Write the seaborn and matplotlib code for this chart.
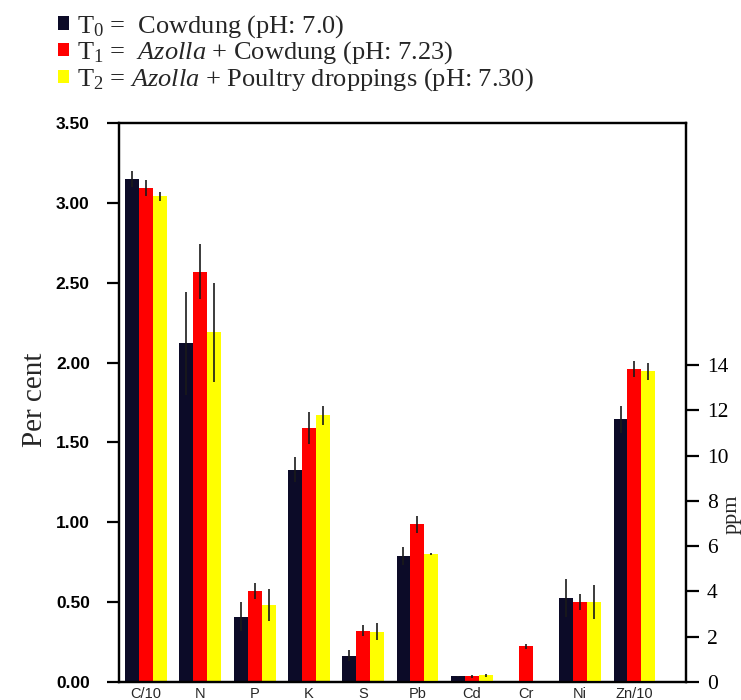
import numpy as np
import pandas as pd
import matplotlib
matplotlib.use("Agg")
import matplotlib.pyplot as plt
import seaborn as sns

# ---------------- data ----------------
categories = ["C/10", "N", "P", "K", "S", "Pb", "Cd", "Cr", "Ni", "Zn/10"]
pct_categories = ["C/10", "N", "P", "K", "S"]
ppm_categories = ["Pb", "Cd", "Cr", "Ni", "Zn/10"]
treatments = ["T0", "T1", "T2"]

# per cent (left axis)
t0_pct = [3.15, 2.12, 0.41, 1.33, 0.165]
t1_pct = [3.09, 2.57, 0.57, 1.59, 0.32]
t2_pct = [3.04, 2.19, 0.48, 1.67, 0.315]
t0_pct_err = [0.05, 0.32, 0.09, 0.08, 0.033]
t1_pct_err = [0.05, 0.17, 0.05, 0.10, 0.035]
t2_pct_err = [0.03, 0.31, 0.10, 0.06, 0.055]

# ppm (right axis)
t0_ppm = [5.55, 0.25, np.nan, 3.71, 11.6]
t1_ppm = [6.96, 0.26, 1.57, 3.52, 13.83]
t2_ppm = [5.64, 0.29, np.nan, 3.54, 13.73]
t0_ppm_err = [0.40, 0.03, 0.0, 0.82, 0.60]
t1_ppm_err = [0.37, 0.07, 0.13, 0.35, 0.37]
t2_ppm_err = [0.05, 0.07, 0.0, 0.74, 0.38]

legend_labels = [
    r"T$_0$ =  Cowdung (pH: 7.0)",
    r"T$_1$ =  $\mathit{Azolla}$ + Cowdung (pH: 7.23)",
    r"T$_2$ = $\mathit{Azolla}$ + Poultry droppings (pH: 7.30)",
]
left_ticks = [0.0, 0.5, 1.0, 1.5, 2.0, 2.5, 3.0, 3.5]
right_ticks = [0, 2, 4, 6, 8, 10, 12, 14]

colors = ["#0c0b28", "#ff0000", "#ffff00"]

# ---------------- build frames ----------------
def long_frame(cats, series, errs):
    rows = []
    for t, vals, es in zip(treatments, series, errs):
        for c, v, e in zip(cats, vals, es):
            rows.append({"cat": c, "treatment": t, "value": v, "err": e})
    return pd.DataFrame(rows)

df_pct = long_frame(pct_categories, [t0_pct, t1_pct, t2_pct],
                    [t0_pct_err, t1_pct_err, t2_pct_err])
df_ppm = long_frame(ppm_categories, [t0_ppm, t1_ppm, t2_ppm],
                    [t0_ppm_err, t1_ppm_err, t2_ppm_err])

# ---------------- style ----------------
sns.set_style("white")
plt.rcParams["font.family"] = ["Liberation Serif", "DejaVu Serif"]
plt.rcParams["mathtext.fontset"] = "custom"
plt.rcParams["mathtext.rm"] = "Liberation Serif"
plt.rcParams["mathtext.it"] = "Liberation Serif:italic"

fig = plt.figure(figsize=(7.41, 7.00), dpi=100)
ax = fig.add_axes([119 / 741, 1 - 682 / 700, (686 - 119) / 741, (682 - 123) / 700])
ax2 = ax.twinx()

sns.barplot(data=df_pct, x="cat", y="value", hue="treatment", order=categories,
            hue_order=treatments, palette=colors, width=0.77, errorbar=None,
            saturation=1, ax=ax, legend=False)
sns.barplot(data=df_ppm, x="cat", y="value", hue="treatment", order=categories,
            hue_order=treatments, palette=colors, width=0.77, errorbar=None,
            saturation=1, ax=ax2, legend=False)

def add_errors(axis, df):
    for container, t in zip(axis.containers, treatments):
        sub = df[df["treatment"] == t].set_index("cat")
        for bar in container:
            h = bar.get_height()
            if not np.isfinite(h):
                continue
            xc = bar.get_x() + bar.get_width() / 2
            cat = categories[int(round(xc))]
            if cat not in sub.index:
                continue
            e = sub.loc[cat, "err"]
            if e > 0:
                axis.errorbar(xc, h, yerr=e, fmt="none", ecolor="#1a1a1a",
                              elinewidth=1.2, capsize=0, zorder=5)

add_errors(ax, df_pct)
add_errors(ax2, df_ppm)

for b in ax.patches + ax2.patches:
    b.set_edgecolor("none")

ax.set_xlim(-0.5, 9.95)
ax.set_ylim(0, 3.5)
ax2.set_ylim(0, 24.7)

ax.set_yticks(left_ticks)
ax.set_yticklabels([f"{v:.2f}" for v in left_ticks],
                   fontfamily="Liberation Sans", fontweight="bold", fontsize=12.5)
ax2.set_yticks(right_ticks)
ax2.set_yticklabels([str(v) for v in right_ticks], fontsize=15.5)

ax.set_xticks(range(len(categories)))
ax.set_xticklabels(categories, fontfamily="Liberation Sans", fontsize=10.5)
ax.tick_params(axis="x", bottom=False, pad=0)
ax.tick_params(axis="y", left=True, direction="out", length=9, width=1.6,
               pad=12, colors="black")
ax2.tick_params(axis="y", right=True, direction="out", length=9, width=1.6,
                pad=6, colors="black")

ax.set_xlabel("")
ax.set_ylabel("Per cent", fontsize=21)
ax.yaxis.set_label_coords(-0.125, 0.505)
ax2.set_ylabel("ppm", fontsize=16)
ax2.yaxis.set_label_coords(1.064, 0.30)
ax2.set_xlabel("")

for a in (ax, ax2):
    for s in a.spines.values():
        s.set_visible(True)
        s.set_color("black")
        s.set_linewidth(1.6)

handles = [ax.containers[i][0] for i in range(3)]
fig.legend(handles, legend_labels, loc="upper left", bbox_to_anchor=(37 / 741, 1.012),
           frameon=False, fontsize=19, handlelength=0.42, handleheight=0.42,
           handletextpad=0.3, labelspacing=0.0, borderpad=0.3)

fig.savefig("out.png", dpi=100)
